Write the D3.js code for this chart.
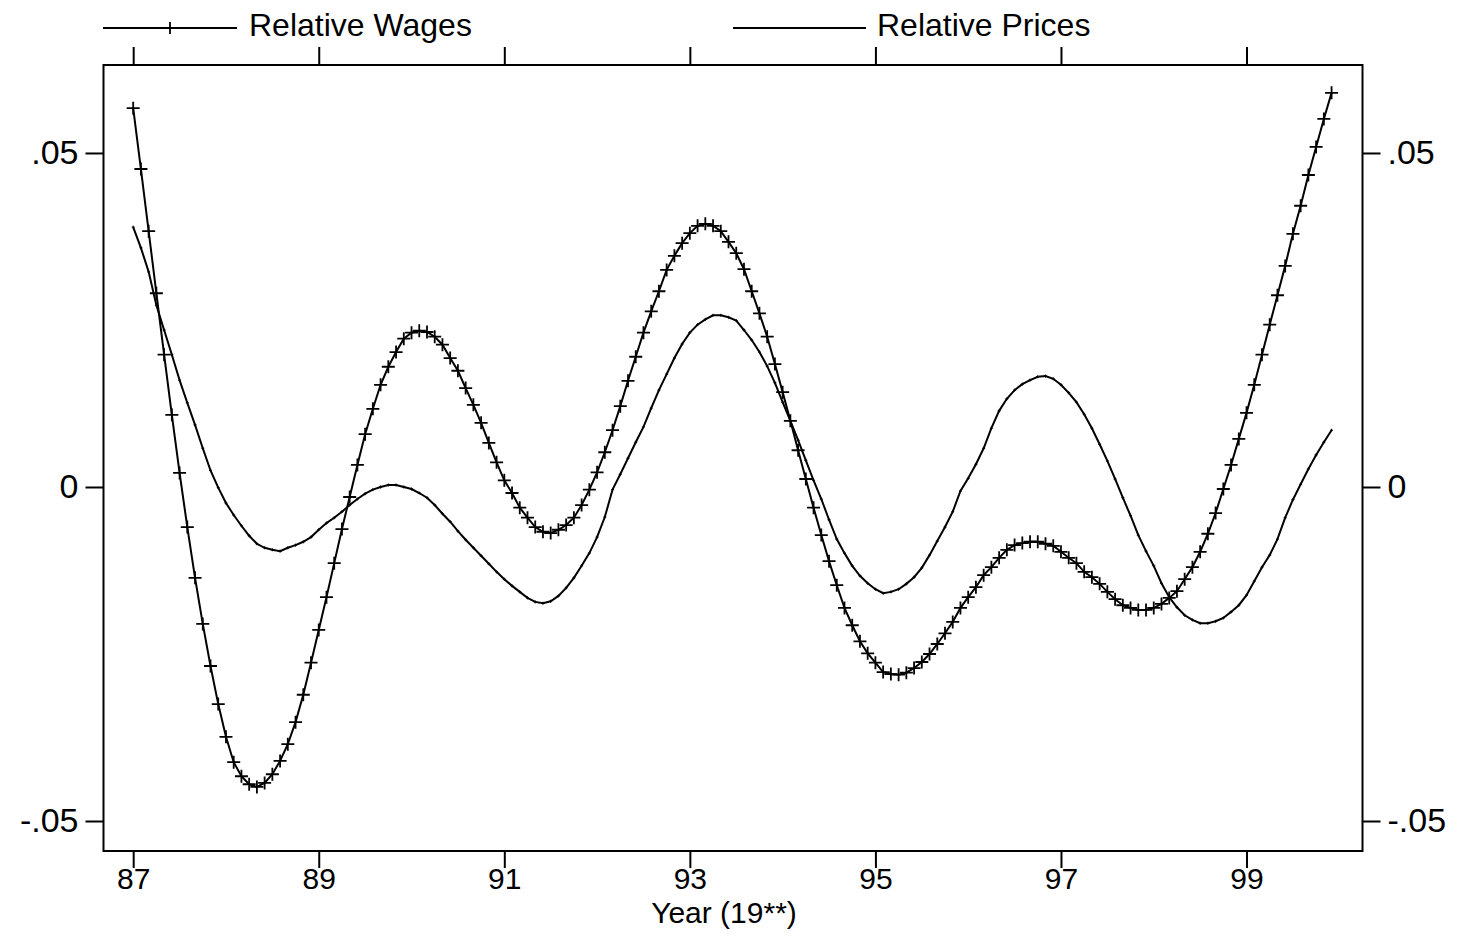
<!DOCTYPE html>
<html>
<head>
<meta charset="utf-8">
<script src="https://cdn.jsdelivr.net/npm/d3@7"></script>
<style>
  html, body { margin: 0; padding: 0; background: #fff; }
  text { font-family: "Liberation Sans", Arial, sans-serif; fill: #000; }
</style>
</head>
<body>
<div id="chart"></div>
<script>
// monthly observations, Jan 1987 .. Dec 1999
const startYear = 87;
const wages = [
  0.0567, 0.0476, 0.0383, 0.0290, 0.0198, 0.0108, 0.0021, -0.0060, -0.0136, -0.0205, -0.0268, -0.0325,
  -0.0374, -0.0412, -0.0433, -0.0445, -0.0449, -0.0443, -0.0430, -0.0410, -0.0385, -0.0352, -0.0311, -0.0263,
  -0.0214, -0.0165, -0.0114, -0.0063, -0.0015, 0.0033, 0.0079, 0.0117, 0.0153, 0.0180, 0.0202, 0.0222,
  0.0231, 0.0234, 0.0232, 0.0225, 0.0213, 0.0193, 0.0174, 0.0148, 0.0123, 0.0096, 0.0066, 0.0037,
  0.0010, -0.0009, -0.0031, -0.0046, -0.0060, -0.0067, -0.0069, -0.0064, -0.0057, -0.0046, -0.0027, -0.0004,
  0.0022, 0.0052, 0.0085, 0.0121, 0.0159, 0.0195, 0.0231, 0.0263, 0.0293, 0.0325, 0.0346, 0.0365,
  0.0380, 0.0391, 0.0394, 0.0391, 0.0383, 0.0367, 0.0350, 0.0326, 0.0293, 0.0260, 0.0225, 0.0184,
  0.0142, 0.0099, 0.0055, 0.0012, -0.0031, -0.0072, -0.0111, -0.0147, -0.0181, -0.0207, -0.0231, -0.0249,
  -0.0263, -0.0277, -0.0280, -0.0281, -0.0278, -0.0271, -0.0262, -0.0250, -0.0235, -0.0219, -0.0202, -0.0181,
  -0.0165, -0.0150, -0.0132, -0.0120, -0.0106, -0.0094, -0.0087, -0.0084, -0.0082, -0.0082, -0.0085, -0.0088,
  -0.0097, -0.0106, -0.0114, -0.0127, -0.0135, -0.0145, -0.0157, -0.0168, -0.0177, -0.0181, -0.0184, -0.0184,
  -0.0181, -0.0175, -0.0166, -0.0156, -0.0138, -0.0120, -0.0097, -0.0070, -0.0039, -0.0003, 0.0033, 0.0072,
  0.0111, 0.0153, 0.0198, 0.0243, 0.0287, 0.0331, 0.0379, 0.0421, 0.0467, 0.0509, 0.0551, 0.0590
];
const prices = [
  0.0389, 0.0358, 0.0322, 0.0272, 0.0235, 0.0198, 0.0160, 0.0126, 0.0093, 0.0058, 0.0025, -0.0001,
  -0.0024, -0.0042, -0.0058, -0.0073, -0.0085, -0.0091, -0.0094, -0.0096, -0.0091, -0.0087, -0.0082, -0.0075,
  -0.0064, -0.0054, -0.0046, -0.0037, -0.0027, -0.0018, -0.0010, -0.0004, 0.0000, 0.0003, 0.0003, 0.0000,
  -0.0003, -0.0009, -0.0016, -0.0027, -0.0040, -0.0052, -0.0066, -0.0079, -0.0091, -0.0103, -0.0115, -0.0127,
  -0.0138, -0.0148, -0.0157, -0.0166, -0.0172, -0.0174, -0.0171, -0.0163, -0.0151, -0.0136, -0.0118, -0.0099,
  -0.0075, -0.0045, -0.0004, 0.0019, 0.0043, 0.0067, 0.0090, 0.0118, 0.0145, 0.0169, 0.0193, 0.0214,
  0.0231, 0.0243, 0.0251, 0.0257, 0.0257, 0.0254, 0.0249, 0.0235, 0.0220, 0.0202, 0.0181, 0.0156,
  0.0127, 0.0099, 0.0070, 0.0040, 0.0010, -0.0018, -0.0049, -0.0078, -0.0099, -0.0118, -0.0133, -0.0144,
  -0.0153, -0.0159, -0.0157, -0.0153, -0.0145, -0.0135, -0.0121, -0.0102, -0.0081, -0.0060, -0.0037, -0.0006,
  0.0013, 0.0034, 0.0058, 0.0088, 0.0114, 0.0132, 0.0145, 0.0154, 0.0160, 0.0165, 0.0166, 0.0162,
  0.0153, 0.0141, 0.0127, 0.0109, 0.0088, 0.0064, 0.0039, 0.0012, -0.0016, -0.0043, -0.0072, -0.0096,
  -0.0118, -0.0144, -0.0165, -0.0180, -0.0192, -0.0199, -0.0204, -0.0204, -0.0201, -0.0196, -0.0187, -0.0177,
  -0.0162, -0.0141, -0.0120, -0.0102, -0.0078, -0.0046, -0.0019, 0.0004, 0.0027, 0.0048, 0.0067, 0.0085
];
const xTicks = [87, 89, 91, 93, 95, 97, 99];
const yTicks = [-0.05, 0, 0.05];
const yTickLabels = ["-.05", "0", ".05"];
const legendLabels = ["Relative Wages", "Relative Prices"];
const xTitle = "Year (19**)";

const W = 1458, H = 939;
const box = { left: 103.5, right: 1362.5, top: 65, bottom: 851 };

const svg = d3.select('#chart').append('svg').attr('width', W).attr('height', H);

const x = d3.scaleLinear().domain([86.68, 100.25]).range([box.left, box.right]);
const y = d3.scaleLinear().domain([-0.05449, 0.06317]).range([box.bottom, box.top]);

const wagePts = wages.map((v, i) => [startYear + i / 12, v]);
const pricePts = prices.map((v, i) => [startYear + i / 12, v]);

// axes on all four sides, ticks pointing out
const fnt = 30;
svg.append('g').attr('transform', `translate(0,${box.bottom})`)
  .call(d3.axisBottom(x).tickValues(xTicks).tickSize(17).tickFormat(d3.format('d')))
  .call(g => g.select('.domain').remove())
  .call(g => g.selectAll('.tick text').attr('dy', null).attr('y', 38).attr('font-size', fnt));
svg.append('g').attr('transform', `translate(0,${box.top})`)
  .call(d3.axisTop(x).tickValues(xTicks).tickSize(18).tickFormat(''))
  .call(g => g.select('.domain').remove());
svg.append('g').attr('transform', `translate(${box.left},0)`)
  .call(d3.axisLeft(y).tickValues(yTicks).tickSize(18).tickPadding(7).tickFormat((d, i) => yTickLabels[i]))
  .call(g => g.select('.domain').remove())
  .call(g => g.selectAll('.tick text').attr('font-size', 34));
svg.append('g').attr('transform', `translate(${box.right},0)`)
  .call(d3.axisRight(y).tickValues(yTicks).tickSize(18).tickPadding(7).tickFormat((d, i) => yTickLabels[i]))
  .call(g => g.select('.domain').remove())
  .call(g => g.selectAll('.tick text').attr('font-size', 34));
svg.selectAll('.tick line').attr('stroke', '#000').attr('stroke-width', 2);
svg.selectAll('.tick text').attr('font-family', '"Liberation Sans", Arial, sans-serif').attr('fill', '#000');

svg.append('rect').attr('x', box.left).attr('y', box.top)
  .attr('width', box.right - box.left).attr('height', box.bottom - box.top)
  .attr('fill', 'none').attr('stroke', '#000').attr('stroke-width', 2);

const line = d3.line().x(d => x(d[0])).y(d => y(d[1]));

svg.append('path').datum(pricePts).attr('d', line)
  .attr('fill', 'none').attr('stroke', '#000').attr('stroke-width', 2);
svg.append('path').datum(wagePts).attr('d', line)
  .attr('fill', 'none').attr('stroke', '#000').attr('stroke-width', 2);

function plus(g, pts, r, sw) {
  g.selectAll('path.m').data(pts).join('path').attr('class', 'm')
    .attr('d', d => `M${x(d[0]) - r},${y(d[1])}h${2 * r}M${x(d[0])},${y(d[1]) - r}v${2 * r}`)
    .attr('stroke', '#000').attr('stroke-width', sw).attr('fill', 'none');
}
plus(svg.append('g'), wagePts, 6.5, 1.8);
plus(svg.append('g'), pricePts, 1.5, 1);

// legend
const leg = svg.append('g');
leg.append('line').attr('x1', 103).attr('x2', 237).attr('y1', 28).attr('y2', 28).attr('stroke', '#000').attr('stroke-width', 2);
leg.append('line').attr('x1', 170).attr('x2', 170).attr('y1', 22).attr('y2', 34).attr('stroke', '#000').attr('stroke-width', 1.8);
leg.append('text').attr('x', 249).attr('y', 36).attr('font-size', 32).text(legendLabels[0]);
leg.append('line').attr('x1', 733).attr('x2', 866).attr('y1', 28).attr('y2', 28).attr('stroke', '#000').attr('stroke-width', 2);
leg.append('text').attr('x', 877).attr('y', 36).attr('font-size', 32).text(legendLabels[1]);

svg.append('text').attr('x', 724).attr('y', 923).attr('text-anchor', 'middle')
  .attr('font-size', fnt).text(xTitle);
</script>
</body>
</html>
